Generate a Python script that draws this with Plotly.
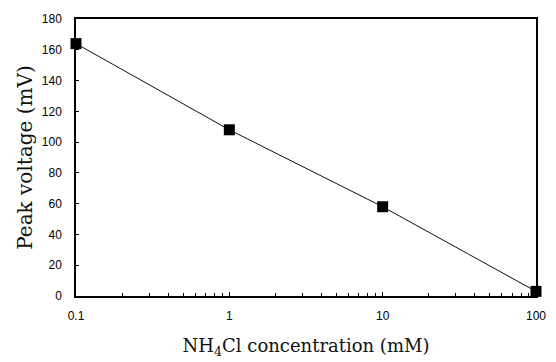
import plotly.graph_objects as go

conc_mM = [0.1, 1, 10, 100]
peak_mV = [164, 108, 58, 3]
x_tick_vals = [0.1, 1, 10, 100]
x_tick_text = ["0.1", "1", "10", "100"]
y_tick_vals = [0, 20, 40, 60, 80, 100, 120, 140, 160, 180]

fig = go.Figure()
fig.add_trace(go.Scatter(
    x=conc_mM, y=peak_mV, mode="lines+markers",
    line=dict(color="#111111", width=1),
    marker=dict(symbol="square", size=11, color="black"),
    cliponaxis=False, showlegend=False,
))

serif = "DejaVu Serif, Liberation Serif, serif"

fig.update_layout(
    width=556, height=362,
    margin=dict(l=68, r=28, t=4, b=74),
    paper_bgcolor="white", plot_bgcolor="white",
    font=dict(family="Liberation Sans, Arial", size=12, color="black"),
    xaxis=dict(
        type="log", range=[-1, 2],
        tickvals=x_tick_vals, ticktext=x_tick_text,
        ticks="inside", ticklen=4, tickcolor="black",
        showline=True, linecolor="black", linewidth=1.5, mirror=True,
        showgrid=False, zeroline=False,
        minor=dict(ticks="inside", ticklen=3, tickcolor="black", dtick="D1", showgrid=False),
        title=dict(text="NH<sub>4</sub>Cl concentration (mM)",
                   font=dict(family=serif, size=18, color="#111111"), standoff=17),
        ticklabelstandoff=8, ticklabeloverflow="allow",
    ),
    yaxis=dict(
        range=[0, 180], tickvals=y_tick_vals,
        ticks="inside", ticklen=3, tickcolor="black",
        showline=True, linecolor="black", linewidth=1.5, mirror=True,
        showgrid=False, zeroline=False,
        title=dict(text="Peak voltage (mV)",
                   font=dict(family=serif, size=20, color="#111111"), standoff=4),
        ticklabelstandoff=10, ticklabeloverflow="allow",
    ),
)

fig.write_html("out.html")
